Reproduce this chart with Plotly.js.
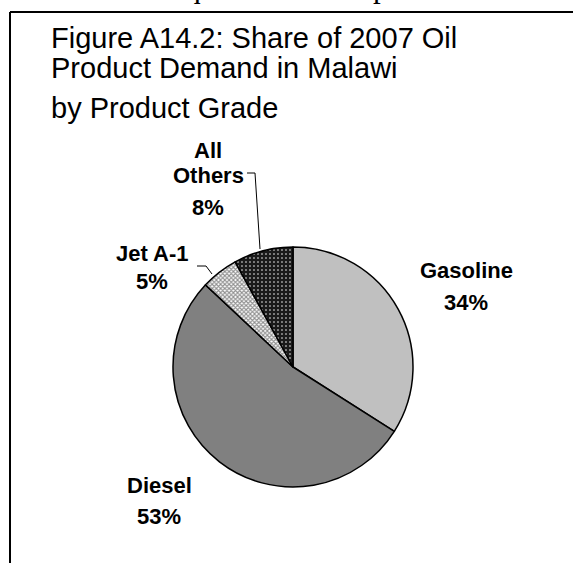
<!DOCTYPE html>
<html>
<head>
<meta charset="utf-8">
<script src="https://cdn.plot.ly/plotly-3.0.1.min.js"></script>
<style>html,body{margin:0;padding:0;background:#fff;}#chart{width:573px;height:563px;}</style>
</head>
<body>
<div id="chart"></div>
<script>
// ---- data ----
const categories = ["Gasoline", "Diesel", "Jet A-1", "All Others"];
const shareValues = [34, 53, 5, 8];
const labelLines = [["Gasoline"], ["Diesel"], ["Jet A-1"], ["All", "Others"]];
const titleLines = ["Figure A14.2: Share of 2007 Oil", "Product Demand in Malawi", "by Product Grade"];
const bodyTextFragment = "would require more cooperation between";

// ---- layout helpers (pixel -> paper, margins are zero) ----
const W = 573, H = 563;
const px = x => x / W;
const py = y => 1 - y / H;

const labelFont = {family: "Liberation Sans, Arial, sans-serif", size: 22, color: "#000"};
function bold(s) { return "<b>" + s + "</b>"; }

// label line positions (pixels) per slice: [x, [y of each line]]
const labelPos = [
  [466, [271, 302]],
  [159, [485, 516]],
  [152, [253, 281]],
  [208, [150, 176, 207]]
];

const annotations = [];
categories.forEach((c, i) => {
  const lines = labelLines[i].concat([shareValues[i] + "%"]);
  lines.forEach((t, j) => {
    annotations.push({
      xref: "paper", yref: "paper", x: px(labelPos[i][0]), y: py(labelPos[i][1][j]),
      xanchor: "center", yanchor: "middle", showarrow: false,
      text: bold(t), font: labelFont
    });
  });
});

const titleY = [38, 68, 108];
titleLines.forEach((t, j) => {
  annotations.push({
    xref: "paper", yref: "paper", x: px(49), y: py(titleY[j]),
    xanchor: "left", yanchor: "middle", showarrow: false,
    text: t, font: {family: "Liberation Sans, Arial, sans-serif", size: 29, color: "#000"}
  });
});

annotations.push({
  xref: "paper", yref: "paper", x: px(74), y: py(6),
  xanchor: "left", yanchor: "bottom", showarrow: false,
  text: bodyTextFragment, font: {family: "Liberation Serif, Times New Roman, serif", size: 31, color: "#000"}
});

const pathFrom = pts => "M " + pts.map(p => px(p[0]) + "," + py(p[1])).join(" L ");

const shapes = [
  {type: "line", xref: "paper", yref: "paper", x0: px(10), x1: px(573), y0: py(12), y1: py(12), line: {color: "#000", width: 2}},
  {type: "line", xref: "paper", yref: "paper", x0: px(10), x1: px(10), y0: py(12), y1: py(563), line: {color: "#000", width: 2}},
  {type: "path", xref: "paper", yref: "paper", path: pathFrom([[247, 173], [255, 173], [260, 249]]), line: {color: "#000", width: 1}},
  {type: "path", xref: "paper", yref: "paper", path: pathFrom([[197, 266], [206, 266], [212, 274]]), line: {color: "#000", width: 1}}
];

const trace = {
  type: "pie",
  labels: categories,
  values: shareValues,
  sort: false,
  direction: "clockwise",
  rotation: 0,
  textinfo: "none",
  hoverinfo: "skip",
  showlegend: false,
  domain: {x: [px(173), px(413)], y: [py(487), py(247)]},
  marker: {
    colors: ["#c0c0c0", "#808080", "#ffffff", "#000000"],
    line: {color: "#000", width: 1.5},
    pattern: {
      shape: ["", "", "x", "."],
      fgcolor: ["#c0c0c0", "#808080", "#909090", "#ffffff"],
      bgcolor: ["#c0c0c0", "#808080", "#ffffff", "#1a1a1a"],
      size: [6, 6, 3, 4],
      solidity: [0.3, 0.3, 0.6, 0.12]
    }
  }
};

const layout = {
  width: W, height: H,
  margin: {l: 0, r: 0, t: 0, b: 0},
  paper_bgcolor: "#fff",
  plot_bgcolor: "#fff",
  annotations: annotations,
  shapes: shapes
};

Plotly.newPlot("chart", [trace], layout, {displayModeBar: false, staticPlot: true});
</script>
</body>
</html>
